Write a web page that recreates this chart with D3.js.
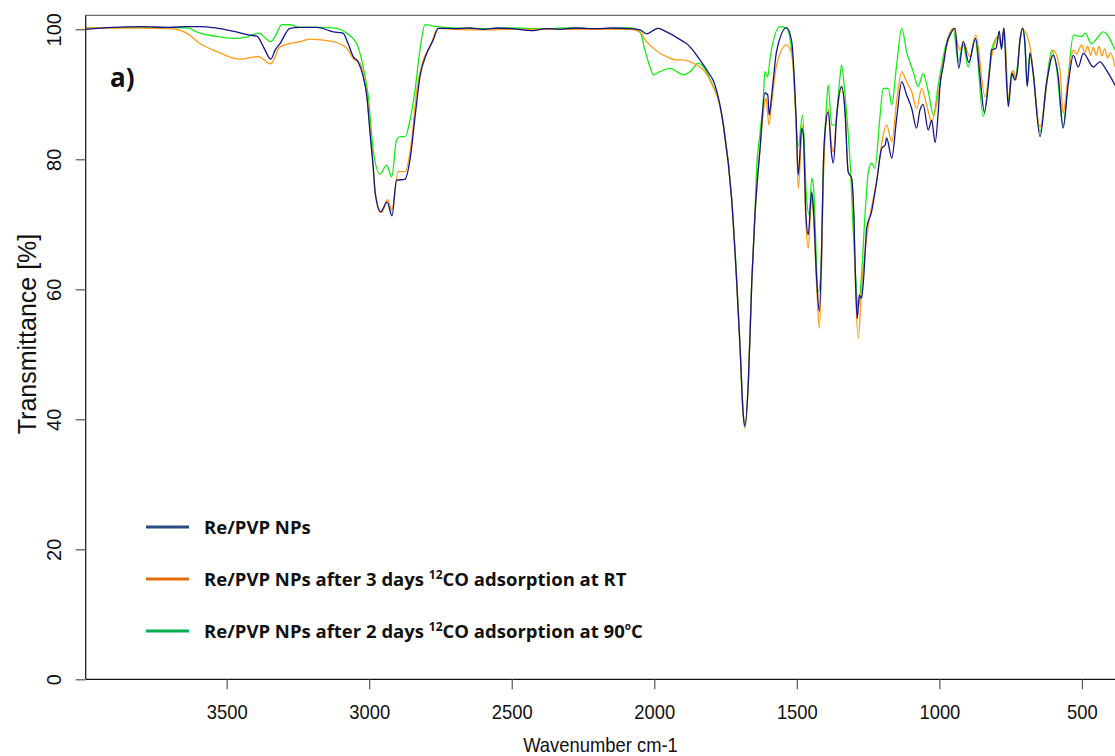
<!DOCTYPE html>
<html>
<head>
<meta charset="utf-8">
<script src="https://cdn.jsdelivr.net/npm/d3@7"></script>
<style>
  html, body { margin: 0; padding: 0; background: #fff; }
  svg { display: block; }
  .tick text { font-family: "Liberation Sans", Arial, sans-serif; font-size: 20px; fill: #111; }
  .legend text { font-family: "Open Sans", Lato, sans-serif; font-weight: 700; font-size: 18.5px; fill: #111; }
</style>
</head>
<body>
<svg id="chart" width="1115" height="756"></svg>
<script>
// Axis ticks
const wavenumberTicks = [3500, 3000, 2500, 2000, 1500, 1000, 500];
const transmittanceTicks = [0, 20, 40, 60, 80, 100];

// Re/PVP NPs
const pvpWn = [3994, 3900, 3800, 3700, 3640, 3593, 3540, 3478, 3418, 3393, 3371, 3345, 3330, 3313, 3278, 3243, 3183, 3126, 3092, 3074, 3056, 3039, 3021, 3008, 2997, 2986, 2979, 2960, 2937, 2920, 2904, 2875, 2857, 2839, 2822, 2798, 2775, 2758, 2700, 2650, 2600, 2550, 2500, 2425, 2380, 2331, 2280, 2200, 2150, 2085, 2050, 2027, 1987, 1957, 1898, 1887, 1840, 1805, 1794, 1758, 1729, 1711, 1699, 1688, 1682, 1670, 1658, 1647, 1629, 1612, 1602, 1597, 1588, 1571, 1536, 1518, 1503, 1495, 1483, 1477, 1468, 1460, 1448, 1442, 1430, 1421, 1413, 1407, 1399, 1390, 1378, 1372, 1360, 1343, 1331, 1320, 1308, 1300, 1294, 1288, 1281, 1273, 1265, 1255, 1238, 1220, 1202, 1190, 1185, 1167, 1150, 1132, 1115, 1097, 1080, 1068, 1057, 1039, 1027, 1015, 1004, 998, 986, 974, 963, 945, 932, 916, 897, 873, 858, 842, 823, 817, 801, 790, 782, 774, 764, 758, 746, 735, 727, 717, 708, 700, 692, 682, 671, 647, 624, 601, 583, 566, 548, 530, 513, 495, 460, 437, 414, 384];
const pvpT = [100.0, 100.3, 100.4, 100.3, 100.4, 100.4, 100.2, 99.7, 99.1, 98.9, 97.3, 95.4, 96.8, 97.8, 100.15, 100.3, 100.3, 99.6, 99.4, 97.8, 95.8, 95.0, 92.7, 89.6, 84.0, 78.8, 74.8, 71.9, 73.4, 71.3, 76.8, 76.9, 79.9, 86.6, 92.7, 96.3, 98.4, 100.15, 100.1, 100.2, 100.0, 100.2, 100.1, 99.8, 100.1, 100.0, 100.2, 100.1, 100.2, 100.1, 99.9, 99.3, 100.15, 99.6, 98.1, 97.8, 95.3, 93.0, 92.2, 85.3, 74.0, 61.2, 50.9, 40.7, 38.9, 45.8, 61.2, 71.4, 81.7, 90.2, 89.9, 86.8, 89.9, 96.6, 100.25, 98.1, 86.8, 77.6, 84.8, 83.7, 71.4, 68.4, 75.0, 72.5, 61.2, 56.6, 66.3, 79.1, 85.3, 87.3, 80.7, 79.4, 86.8, 91.2, 87.3, 78.1, 77.1, 71.4, 61.2, 55.5, 59.1, 58.6, 62.2, 69.4, 71.9, 76.6, 81.7, 82.2, 83.3, 80.2, 86.3, 91.9, 89.9, 87.8, 84.8, 87.6, 88.4, 84.5, 86.0, 82.6, 87.3, 91.2, 94.5, 97.8, 99.1, 100.15, 94.0, 98.1, 94.9, 98.6, 93.0, 87.2, 94.0, 96.8, 97.1, 99.7, 96.9, 100.2, 91.6, 88.1, 93.2, 92.2, 93.5, 98.4, 100.15, 97.8, 91.2, 96.3, 93.2, 83.5, 91.7, 96.0, 92.7, 84.8, 91.6, 96.0, 94.2, 96.3, 94.2, 95.0, 93.7, 91.4];

// Re/PVP NPs after 3 days 12CO adsorption at RT
const rtWn = [3994, 3800, 3699, 3640, 3594, 3535, 3453, 3389, 3345, 3313, 3243, 3208, 3126, 3079, 3056, 3032, 3021, 3008, 2997, 2986, 2979, 2956, 2936, 2921, 2898, 2874, 2851, 2833, 2810, 2787, 2758, 2700, 2600, 2500, 2400, 2300, 2200, 2085, 2044, 2039, 2003, 1980, 1957, 1921, 1898, 1851, 1840, 1805, 1758, 1729, 1711, 1699, 1688, 1682, 1670, 1658, 1647, 1629, 1612, 1608, 1598, 1588, 1571, 1536, 1518, 1503, 1495, 1480, 1468, 1460, 1448, 1442, 1430, 1421, 1413, 1407, 1390, 1378, 1372, 1360, 1343, 1331, 1320, 1308, 1300, 1294, 1284, 1273, 1265, 1249, 1220, 1197, 1185, 1167, 1150, 1132, 1115, 1097, 1080, 1062, 1045, 1027, 1010, 986, 951, 928, 916, 893, 872, 840, 817, 793, 782, 773, 758, 741, 731, 717, 708, 682, 647, 618, 601, 577, 566, 548, 530, 519, 501, 490, 480, 470, 460, 450, 440, 430, 420, 410, 400, 384];
const rtT = [100.2, 100.2, 100.1, 99.4, 97.8, 96.6, 95.4, 95.8, 94.7, 97.3, 98.1, 98.5, 98.1, 97.1, 95.5, 94.8, 93.0, 89.8, 84.5, 79.0, 75.0, 71.8, 73.8, 72.2, 78.1, 78.1, 83.0, 90.7, 95.3, 97.3, 100.15, 100.0, 99.9, 100.0, 100.0, 100.0, 100.0, 100.0, 99.4, 98.9, 97.1, 96.3, 95.8, 95.3, 95.3, 94.5, 94.2, 92.2, 85.3, 74.0, 61.0, 50.7, 40.5, 38.6, 45.5, 61.0, 71.2, 81.5, 89.0, 89.4, 85.3, 88.9, 94.5, 97.6, 96.2, 85.5, 75.5, 85.3, 70.0, 66.3, 74.0, 71.5, 60.0, 54.0, 64.0, 76.6, 87.8, 82.0, 81.2, 86.8, 90.9, 87.5, 78.1, 77.0, 70.5, 60.0, 52.5, 60.2, 64.0, 69.9, 76.6, 83.8, 85.3, 82.7, 88.9, 93.5, 91.9, 90.4, 87.8, 90.9, 88.4, 85.8, 88.4, 95.0, 100.15, 96.8, 98.1, 95.8, 99.1, 89.6, 95.8, 98.9, 97.5, 100.15, 89.6, 93.7, 92.2, 98.4, 100.0, 97.3, 85.0, 93.2, 96.8, 93.7, 87.1, 92.7, 96.8, 96.2, 97.6, 96.4, 97.4, 96.0, 97.2, 96.0, 97.4, 95.9, 97.0, 95.6, 96.4, 94.2];

// Re/PVP NPs after 2 days 12CO adsorption at 90 °C
const hotWn = [3994, 3800, 3640, 3594, 3535, 3478, 3430, 3389, 3345, 3330, 3307, 3278, 3243, 3173, 3126, 3079, 3044, 3021, 3003, 2986, 2962, 2939, 2921, 2904, 2892, 2874, 2857, 2839, 2822, 2804, 2763, 2700, 2600, 2500, 2400, 2300, 2200, 2085, 2050, 2033, 2015, 2003, 1980, 1945, 1898, 1869, 1846, 1828, 1805, 1758, 1729, 1711, 1699, 1688, 1682, 1670, 1658, 1647, 1641, 1629, 1618, 1612, 1602, 1594, 1559, 1536, 1513, 1495, 1480, 1466, 1456, 1448, 1442, 1425, 1416, 1407, 1398, 1390, 1378, 1366, 1349, 1343, 1331, 1314, 1296, 1285, 1273, 1261, 1249, 1238, 1226, 1208, 1197, 1179, 1167, 1150, 1132, 1115, 1092, 1074, 1057, 1039, 1021, 1004, 980, 951, 934, 916, 899, 875, 846, 823, 817, 793, 782, 773, 758, 746, 735, 727, 717, 708, 700, 692, 682, 671, 647, 624, 606, 589, 566, 548, 530, 501, 489, 466, 425, 384];
const hotT = [100.2, 100.3, 100.2, 99.4, 98.9, 98.6, 98.8, 99.4, 98.1, 98.9, 100.7, 100.7, 100.3, 100.3, 100.2, 99.4, 97.8, 94.2, 89.6, 81.4, 77.7, 79.1, 77.3, 83.0, 83.5, 83.5, 86.0, 90.7, 96.8, 100.7, 100.4, 100.2, 100.1, 100.2, 100.1, 100.2, 100.1, 100.2, 99.6, 96.8, 94.2, 93.0, 93.5, 94.0, 93.0, 93.7, 94.8, 94.2, 92.4, 85.5, 74.3, 61.5, 51.2, 41.0, 39.0, 46.0, 61.5, 71.6, 78.5, 84.0, 88.9, 93.5, 92.7, 95.5, 100.4, 100.15, 94.5, 82.0, 86.8, 74.0, 71.4, 77.1, 76.0, 59.6, 62.2, 79.0, 86.8, 91.4, 85.3, 85.3, 92.5, 94.5, 89.9, 80.2, 63.7, 57.1, 62.2, 71.4, 78.1, 79.4, 78.6, 86.8, 90.9, 90.9, 88.4, 94.5, 100.15, 96.6, 93.5, 91.2, 93.2, 90.4, 86.8, 91.4, 97.1, 100.15, 95.0, 97.6, 94.2, 98.6, 86.6, 94.5, 96.8, 98.9, 97.3, 100.15, 89.0, 93.5, 92.5, 94.0, 98.6, 100.2, 98.0, 91.5, 96.5, 93.5, 84.2, 92.0, 96.8, 94.0, 85.0, 92.7, 99.1, 98.9, 99.4, 97.8, 99.6, 96.8];

// Legend entries split into normal / superscript runs
const legendLabels = [
  ["Re/PVP NPs"],
  ["Re/PVP NPs after 3 days ", "12", "CO adsorption at RT"],
  ["Re/PVP NPs after 2 days ", "12", "CO adsorption at 90", "o", "C"]
];

const lineColors = ["#14148a", "#ff9a14", "#14ee14"];
const legendColors = ["#2a4d80", "#e46c0a", "#00b050"];

const svg = d3.select("#chart");
const plot = { left: 85.7, right: 1115, top: 15.3, bottom: 679.3 };

const x = d3.scaleLinear().domain([3994.4, 384]).range([plot.left, plot.right]);
const y = d3.scaleLinear().domain([0, 102.15]).range([plot.bottom, plot.top]);

svg.append("defs").append("clipPath").attr("id", "plotClip")
  .append("rect")
  .attr("x", plot.left).attr("y", plot.top)
  .attr("width", plot.right - plot.left).attr("height", plot.bottom - plot.top);

// Spectra: green, orange, then the untreated sample on top
const series = [
  { wn: hotWn, t: hotT, color: lineColors[2] },
  { wn: rtWn, t: rtT, color: lineColors[1] },
  { wn: pvpWn, t: pvpT, color: lineColors[0] }
];

const line = d3.line()
  .x(d => x(d[0]))
  .y(d => y(d[1]))
  .curve(d3.curveMonotoneX);

const lines = svg.append("g").attr("clip-path", "url(#plotClip)");
series.forEach(s => {
  const pts = s.wn.map((w, i) => [w, s.t[i]]);
  lines.append("path")
    .datum(pts)
    .attr("fill", "none")
    .attr("stroke", s.color)
    .attr("stroke-width", 1.3)
    .attr("stroke-linejoin", "round")
    .attr("d", line);
});

// Frame
svg.append("line")
  .attr("x1", plot.left).attr("x2", plot.right)
  .attr("y1", plot.top).attr("y2", plot.top)
  .attr("stroke", "#6a6a6a").attr("stroke-width", 1.2);
svg.append("line")
  .attr("x1", plot.left).attr("x2", plot.left)
  .attr("y1", plot.top).attr("y2", plot.bottom)
  .attr("stroke", "#111").attr("stroke-width", 1.2);

// X axis
const xAxis = svg.append("g")
  .attr("transform", `translate(0,${plot.bottom})`)
  .call(d3.axisBottom(x).tickValues(wavenumberTicks).tickSize(10).tickSizeOuter(0).tickFormat(d3.format("d")));
xAxis.select(".domain").attr("stroke", "#111").attr("stroke-width", 1.2)
  .attr("d", `M${plot.left},0H${plot.right}`);
xAxis.selectAll(".tick line").attr("stroke", "#555").attr("stroke-width", 1.2);
xAxis.selectAll(".tick text")
  .attr("y", 40).attr("dy", 0)
  .attr("transform", "scale(0.92,1)");

// Y axis with rotated labels
const yAxis = svg.append("g")
  .attr("transform", `translate(${plot.left},0)`)
  .call(d3.axisLeft(y).tickValues(transmittanceTicks).tickSize(10).tickSizeOuter(0));
yAxis.select(".domain").remove();
yAxis.selectAll(".tick line").attr("stroke", "#555").attr("stroke-width", 1.2);
yAxis.selectAll(".tick text")
  .attr("x", 0).attr("y", -24.7).attr("dy", 0)
  .attr("text-anchor", "middle")
  .attr("transform", "rotate(-90)");

// Axis titles
svg.append("text")
  .attr("transform", "translate(600.5,752) scale(0.92,1)")
  .attr("text-anchor", "middle")
  .style("font-family", "'Liberation Sans', Arial, sans-serif")
  .style("font-size", "20px")
  .attr("fill", "#111")
  .text("Wavenumber cm-1");

svg.append("text")
  .attr("transform", "translate(36,334) rotate(-90)")
  .attr("text-anchor", "middle")
  .style("font-family", "'Liberation Sans', Arial, sans-serif")
  .style("font-size", "25px")
  .attr("fill", "#111")
  .text("Transmittance [%]");

// Panel tag
svg.append("text")
  .attr("x", 110).attr("y", 87)
  .style("font-family", "'Open Sans', Lato, sans-serif")
  .style("font-weight", 700)
  .style("font-size", "26px")
  .attr("fill", "#111")
  .text("a)");

// Legend
const legend = svg.append("g").attr("class", "legend");
const legendY = [527, 579, 631];
legendLabels.forEach((parts, i) => {
  legend.append("line")
    .attr("x1", 146).attr("x2", 189)
    .attr("y1", legendY[i]).attr("y2", legendY[i])
    .attr("stroke", legendColors[i]).attr("stroke-width", 3);
  const t = legend.append("text").attr("x", 204).attr("y", legendY[i] + 7);
  parts.forEach((p, j) => {
    const sup = (j % 2) === 1;
    const small = sup && p === "o";
    t.append("tspan")
      .attr("dy", sup ? (small ? -8 : -7) : (j > 0 ? (parts[j - 1] === "o" ? 8 : 7) : 0))
      .style("font-size", sup ? (small ? "10px" : "12px") : null)
      .text(p);
  });
});
</script>
</body>
</html>
